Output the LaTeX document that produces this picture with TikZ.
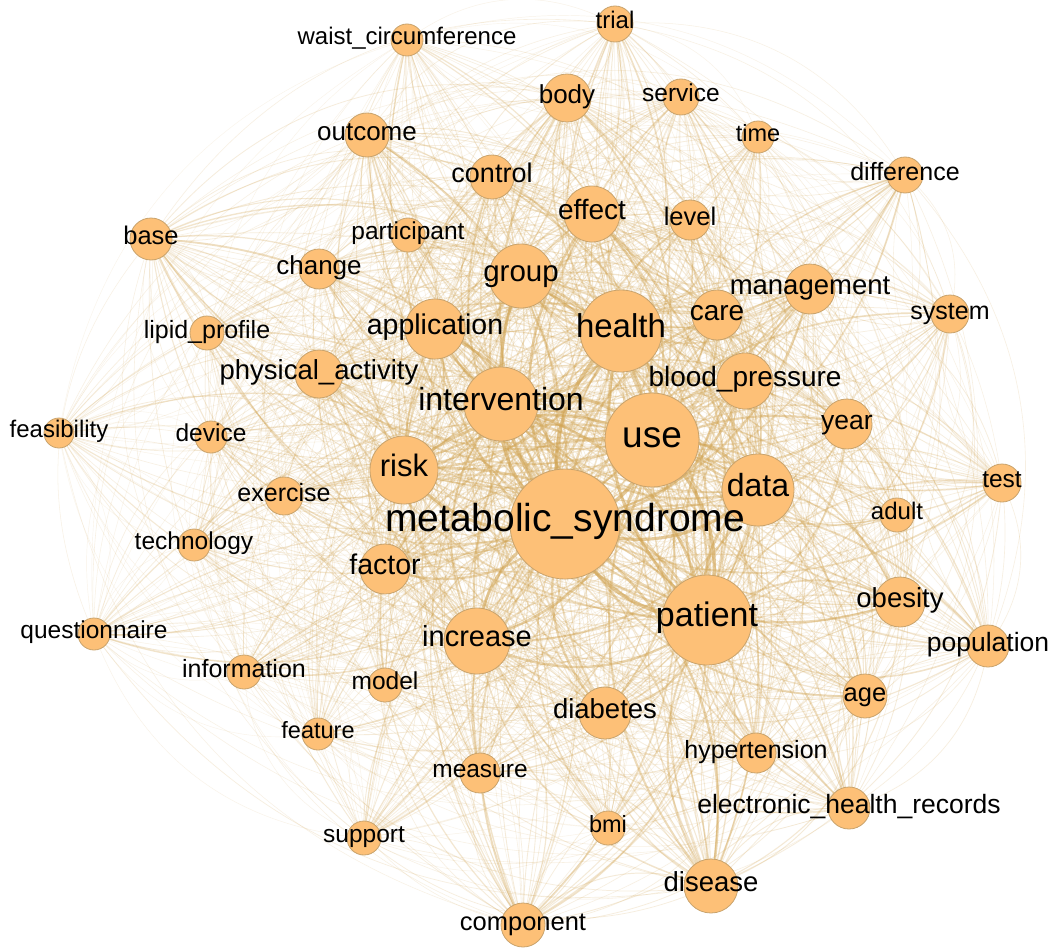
\documentclass[tikz,border=0pt]{standalone}
\usepackage{fontspec}
\setmainfont{Liberation Sans}
\pgfdeclarelayer{bg}
\pgfdeclarelayer{edges}
\pgfdeclarelayer{labels}
\pgfsetlayers{bg,edges,main,labels}
\definecolor{nodefill}{HTML}{FDC077}
\definecolor{nodeline}{HTML}{C9A36C}
\definecolor{edgecol}{HTML}{D3A655}
\tikzset{
  kw/.style={circle, fill=nodefill, draw=nodeline, line width=0.8pt, inner sep=0pt, minimum size={2*#1pt}},
  kwlabel/.style={font=\fontsize{#1}{#1}\selectfont, text=black, inner sep=0pt, text height={0.7*#1pt}, text depth={0.3*#1pt}},
  linkL/.style={draw=edgecol, bend left=32},
  linkR/.style={draw=edgecol, bend right=32},
}
\def\nodelist{ms/55,use/47,health/40,patient/45,intervention/37,data/35,risk/34,increase/33,group/32,application/30,effect/28,bp/28,care/25,management/25,factor/25,diabetes/26,disease/27,obesity/25,year/25,pa/24,body/24,outcome/22,control/22,change/20,population/21,age/22,ehr/21,component/22,level/20,base/21,hypertension/20,measure/20,system/19,test/19,exercise/19,trial/18,service/18,difference/18,adult/17,model/17,support/17,bmi/17,participant/17,lipid/17,information/17,time/16,device/16,technology/16,questionnaire/16,feature/16,waist/16,feasibility/15}
\begin{document}
\begin{tikzpicture}[x=1pt,y=-1pt]
\begin{pgfonlayer}{bg}
\fill[white] (0,0) rectangle (1054,947);
\end{pgfonlayer}
\useasboundingbox (0,0) rectangle (1054,947);
\clip (0,0) rectangle (1054,947);
% nodes
\foreach \n/\x/\y/\r in {ms/565/524/55, use/652/440/47, health/621/331/41, patient/707/620/45,
  intervention/501/404/37, data/758/490/36, risk/404/470/34, increase/477/641/33,
  group/521/276/32, application/435/329/30, effect/592/214/28, bp/745/381/28,
  care/717/315/25, management/810/289/25, factor/385/569/25, diabetes/605/713/26,
  disease/711/886/27, obesity/900/602/25, year/847/424/25, pa/319/374/24,
  body/567/98/24, outcome/367/135/22, control/492/177/22, change/319/269/20,
  population/988/646/21, age/865/696/22, ehr/849/808/21, component/523/925/22,
  level/690/220/20, base/151/239/21, hypertension/756/753/20, measure/480/773/20,
  system/950/314/19, test/1002/483/19, exercise/284/496/19, trial/615/24/18,
  service/681/97/18, difference/905/175/18, adult/897/515/17, model/385/685/17,
  support/364/838/17, bmi/608/828/17, participant/408/235/17, lipid/207/333/17,
  information/244/672/17, time/758/137/16, device/211/437/16, technology/194/545/16,
  questionnaire/94/634/16, feature/318/734/16, waist/407/40/16, feasibility/59/433/15}
  {\node[kw=\r] (\n) at (\x,\y) {};}
% edges
\begin{pgfonlayer}{edges}
\foreach \a/\ra [count=\i] in \nodelist {
  \foreach \b/\rb [count=\j] in \nodelist {
    \ifnum\j>\i
      \pgfmathsetmacro\w{min(3.6,\ra*\rb/620)}
      \pgfmathsetmacro\op{min(0.6,0.07+\ra*\rb/3800)}
      \pgfmathtruncatemacro\parity{mod(\i+\j,2)}
      \ifnum\parity=0
        \draw[linkL, line width=\w pt, draw opacity=\op] (\a.center) to (\b.center);
      \else
        \draw[linkR, line width=\w pt, draw opacity=\op] (\a.center) to (\b.center);
      \fi
    \fi
  }
}
\end{pgfonlayer}
% labels
\begin{pgfonlayer}{labels}
\foreach \n/\f/\t in {ms/39/metabolic\_syndrome, use/37/use, health/33/health, patient/34/patient,
  intervention/32/intervention, data/32/data, risk/31/risk, increase/29/increase,
  group/29.5/group, application/28.5/application, effect/28/effect, bp/28/blood\_pressure,
  care/28/care, management/27.5/management, factor/28.5/factor, diabetes/27.5/diabetes,
  disease/27.5/disease, obesity/27.5/obesity, year/26.5/year, pa/27.5/physical\_activity,
  body/26/body, outcome/26/outcome, control/27/control, change/26/change,
  population/26.5/population, age/25.5/age, ehr/26.5/electronic\_health\_records, component/25.5/component,
  level/25.5/level, base/25.5/base, hypertension/25/hypertension, measure/24.5/measure,
  system/25/system, test/24.5/test, exercise/25/exercise, trial/24/trial,
  service/24.5/service, difference/25/difference, adult/24/adult, model/24.5/model,
  support/24.5/support, bmi/23.5/bmi, participant/24.5/participant, lipid/25/lipid\_profile,
  information/25/information, time/23.5/time, device/24.5/device, technology/24.5/technology,
  questionnaire/24.5/questionnaire, feature/23.5/feature, waist/24/waist\_circumference, feasibility/24/feasibility}
  {\node[kwlabel=\f] (l-\n) at (\n.center) {\t};}
\end{pgfonlayer}
\end{tikzpicture}
\end{document}
